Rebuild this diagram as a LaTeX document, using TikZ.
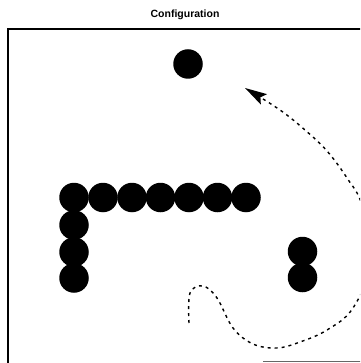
\documentclass[tikz,border=0pt]{standalone}
\usepackage{fontspec}
\setmainfont{Liberation Sans}
\usetikzlibrary{arrows.meta}
\tikzset{
  ball/.style={circle,fill=black,minimum size=29.5pt,inner sep=0pt,draw=none},
  frameline/.style={line width=2pt,black},
  path/.style={dashed,dash pattern=on 3pt off 4pt,line width=1.4pt,
    -{Stealth[length=22pt,width=12pt,inset=4pt]}},
}
\begin{document}
\begin{tikzpicture}[x=1pt,y=-1pt]
\useasboundingbox (0,0) rectangle (360,363);
\clip (0,0) rectangle (360,363);
\node[font=\bfseries\fontsize{10.5}{12}\selectfont,inner sep=0pt] (title) at (185,15) {Configuration};
\draw[frameline] (8,364) -- (8,29.5) -- (361,29.5);
\draw[line width=1pt,black!60] (263,361.5) -- (361,361.5);
\node[ball] (top) at (188,64) {};
\foreach \i/\x in {1/74,2/103,3/132,4/160.5,5/189,6/217.5,7/246}
  \node[ball] (r\i) at (\x,197.5) {};
\foreach \i/\y in {2/225,3/252,4/278}
  \node[ball] (c\i) at (74,\y) {};
\node[ball] (p1) at (302.5,251.5) {};
\node[ball] (p2) at (302.5,277.5) {};
\coordinate (start) at (189,323);
\coordinate (tip) at (245,88);
\draw[path] plot[smooth,tension=0.6] coordinates {(start) (190,293) (203,286) (217,298) (233,328) (253,344) (277,348) (300,342) (327,330) (353,308) (372,260) (362,205) (347,178) (327,151) (305,130) (280,110) (tip)};
\end{tikzpicture}
\end{document}
